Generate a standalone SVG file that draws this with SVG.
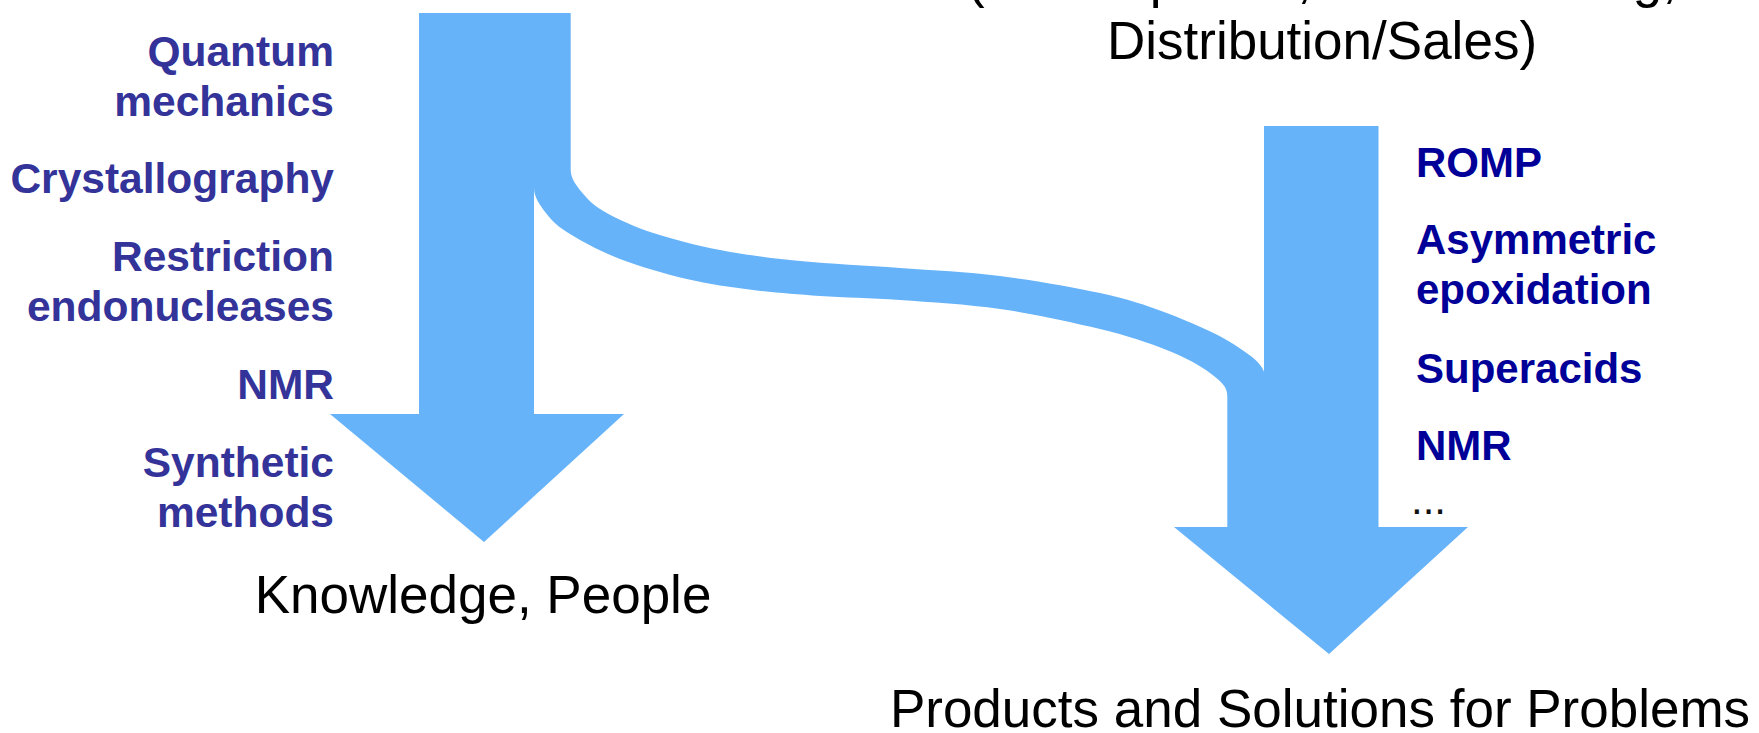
<svg xmlns="http://www.w3.org/2000/svg" width="1759" height="733" viewBox="0 0 1759 733">
  <style>
    .flow { fill: #66B3FA; stroke: none; }
    .topic-l { font-family: "Liberation Sans", Arial, sans-serif; font-weight: bold; font-size: 42.5px; fill: #333399; text-anchor: end; }
    .topic-r { font-family: "Liberation Sans", Arial, sans-serif; font-weight: bold; font-size: 42px; fill: #000099; }
    .caption { font-family: "Liberation Sans", Arial, sans-serif; font-size: 53px; fill: #000000; text-anchor: middle; }
  </style>

  <!-- curved band carrying the flow from the left column to the right one -->
  <g id="connectors">
    <path class="flow" d="M 533,13 L 570.7,13 L 570.7,170
      C 570.7,179 577.3,186.8 583.3,194
      C 589.3,201.2 595,206.5 606.7,213
      C 618.4,219.5 634.4,226.8 653.3,233
      C 672.2,239.2 695.6,245.3 720,250
      C 744.4,254.7 770,258 800,261
      C 830,264 866.7,265.5 900,268
      C 933.3,270.5 966.7,271.8 1000,276
      C 1033.3,280.2 1072.2,286.8 1100,293
      C 1127.8,299.2 1144.5,304.5 1166.7,313
      C 1188.9,321.5 1216.9,333.3 1233.3,344
      C 1249.7,354.7 1265,364.5 1265,377
      L 1265,528 L 1227.3,528 L 1227.3,396
      C 1227.3,386 1220.1,380.7 1210,373
      C 1199.9,365.3 1185,357.3 1166.7,350
      C 1148.4,342.7 1127.8,335.8 1100,329
      C 1072.2,322.5 1033.3,313.8 1000,309
      C 966.7,304.2 930,302.2 900,300
      C 870,297.8 844.5,297.7 820,296
      C 795.5,294.3 775.2,292.8 753,290
      C 730.8,287.2 708.9,284.2 686.7,279
      C 664.5,273.8 639.45,266.5 620,259
      C 600.55,251.5 582.2,241.5 570,234
      C 557.8,226.5 552.7,221.6 546.7,214
      C 540.7,206.4 534,197.3 534,188.3 Z"/>
  </g>

  <!-- left column: knowledge arrow -->
  <g id="knowledge-arrow">
    <path class="flow" d="M 419,13 H 534 V 414 H 624 L 484,542 L 330,414 H 419 Z"/>
  </g>

  <!-- right column: industry arrow -->
  <g id="industry-arrow">
    <path class="flow" d="M 1264,126 H 1378.5 V 527 H 1468 L 1329,654 L 1174,527 H 1264 Z"/>
  </g>

  <g id="research-topics">
    <text class="topic-l" x="334" y="66">Quantum</text>
    <text class="topic-l" x="334" y="116">mechanics</text>
    <text class="topic-l" x="334" y="193">Crystallography</text>
    <text class="topic-l" x="334" y="271">Restriction</text>
    <text class="topic-l" x="334" y="321">endonucleases</text>
    <text class="topic-l" x="334" y="399">NMR</text>
    <text class="topic-l" x="334" y="477">Synthetic</text>
    <text class="topic-l" x="334" y="527">methods</text>
  </g>

  <g id="industry-topics">
    <text class="topic-r" x="1416" y="177">ROMP</text>
    <text class="topic-r" x="1416" y="254">Asymmetric</text>
    <text class="topic-r" x="1416" y="304">epoxidation</text>
    <text class="topic-r" x="1416" y="383">Superacids</text>
    <text class="topic-r" x="1416" y="460">NMR</text>
    <text x="1411" y="514" style="font-family: 'Liberation Sans', Arial, sans-serif; font-size: 42px; fill: #111111;">...</text>
  </g>

  <g id="industry-title">
    <text class="caption" x="1322" y="-3">(Development, Manufacturing,</text>
    <text class="caption" x="1322" y="59">Distribution/Sales)</text>
  </g>

  <g id="knowledge-caption">
    <text class="caption" x="483" y="613">Knowledge, People</text>
  </g>

  <g id="products-caption">
    <text class="caption" x="1320" y="727">Products and Solutions for Problems</text>
  </g>
</svg>
